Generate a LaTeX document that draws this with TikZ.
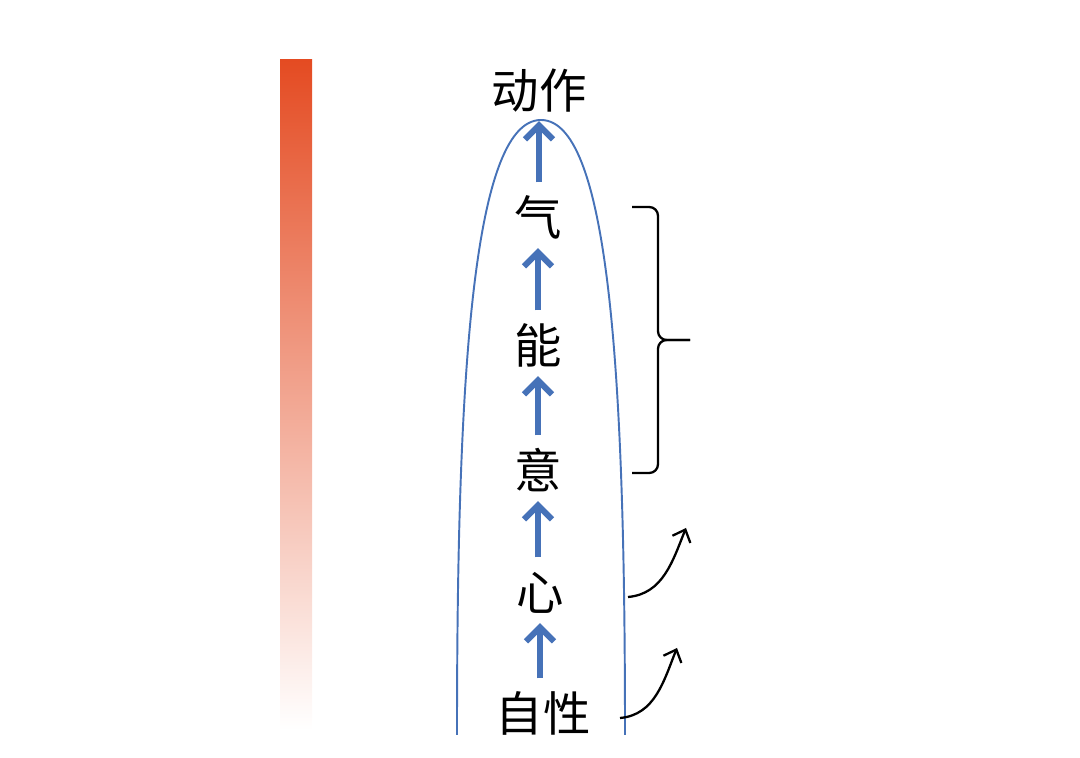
\documentclass[tikz,border=0pt]{standalone}
\usepackage{fontspec}
\newfontfamily\cjk{Noto Sans CJK SC}
\usetikzlibrary{arrows.meta}
\definecolor{barred}{RGB}{228,75,34}
\definecolor{archblue}{RGB}{70,114,184}

\begin{document}
\begin{tikzpicture}[x=0.02cm,y=0.02cm,
  word/.style={font=\cjk\fontsize{27}{31}\selectfont,inner sep=0pt,text height=23.8pt,text depth=3.2pt},
  up/.style={archblue,line width=3.4pt,-{Straight Barb[length=8pt,width=16pt]},shorten <=6pt,shorten >=4pt},
  lift/.style={line width=1.3pt,-{Straight Barb[length=6pt,width=11pt]}}]
\useasboundingbox (0,0) rectangle (1080,758);
% colour bar
\shade[top color=barred,bottom color=white] (280,28) rectangle (312,698);
% arch
\draw[archblue,line width=1.1pt] (457,23) .. controls (457,358) and (470,638) .. (541,638)
  .. controls (612,638) and (625,358) .. (625,23);
% steps
\node[word] (dz) at (539,668) {动作};
\node[word] (qi) at (538,541) {气};
\node[word] (neng) at (538,413) {能};
\node[word] (yi) at (538,288) {意};
\node[word] (xin) at (540,166) {心};
\node[word] (zx) at (543,45) {自性};
\foreach \a/\b in {zx/xin,xin/yi,yi/neng,neng/qi,qi/dz}
  \draw[up] (\b |- \a.north) -- (\b.south);
% brace
\draw[line width=1.3pt,rounded corners=5pt] (632,551) -| (658,418) -- (690,418);
\draw[line width=1.3pt,rounded corners=5pt] (632,285) -| (658,418) -- (690,418);
% side arrows
\coordinate (s1) at (628,161);
\coordinate (e1) at (686,230);
\coordinate (s2) at (620,40);
\coordinate (e2) at (677,110);
\draw[lift] (s1) to[out=5,in=-112] (e1);
\draw[lift] (s2) to[out=5,in=-112] (e2);
\end{tikzpicture}
\end{document}
